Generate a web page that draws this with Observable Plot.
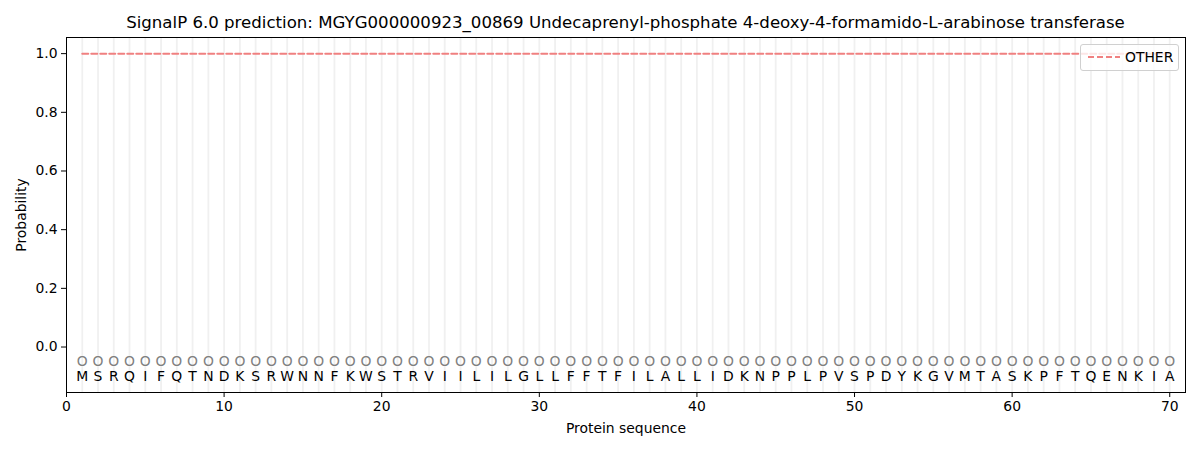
<!DOCTYPE html>
<html>
<head>
<meta charset="utf-8">
<script src="https://cdn.jsdelivr.net/npm/d3@7"></script>
<script src="https://cdn.jsdelivr.net/npm/@observablehq/plot@0.6"></script>
<style>
  body { margin: 0; background: #fff; font-family: "DejaVu Sans", sans-serif; }
  #wrap { position: relative; width: 1200px; height: 450px; }
  #title { position: absolute; top: 13px; left: 66px; width: 1119px; text-align: center; font-size: 16.6px; color: #000; white-space: nowrap; }
  #legend { position: absolute; top: 44px; left: 1080px; width: 97px; height: 25px; border: 1px solid #d0d0d0; border-radius: 3px; background: rgba(255,255,255,0.8); font-size: 13.9px; }
  #legend svg { position: absolute; left: 5px; top: 6px; }
  #legend span { position: absolute; left: 44px; top: 4px; }
</style>
</head>
<body>
<div id="wrap">
  <div id="chart"></div>
  <div id="title">SignalP 6.0 prediction: MGYG000000923_00869 Undecaprenyl-phosphate 4-deoxy-4-formamido-L-arabinose transferase</div>
  <div id="legend"><svg width="36" height="12"><line x1="2" y1="6" x2="34" y2="6" stroke="#f08080" stroke-width="2" stroke-dasharray="6,3"/></svg><span>OTHER</span></div>
</div>
<script>
const sequence = "MSRQIFQTNDKSRWNNFKWSTRVIILILGLLFFTFILALLIDKNPPLPVSPDYKGVMTASKPFTQENKIA".split("");
const otherProb = sequence.map(() => 1.0);
const xTicks = [0, 10, 20, 30, 40, 50, 60, 70];
const yTicks = [0.0, 0.2, 0.4, 0.6, 0.8, 1.0];
const predictionLabel = "O";
const predictionY = -0.05;
const residueY = -0.1;

const rows = sequence.map((aa, i) => ({pos: i + 1, aa, other: otherProb[i]}));

const plot = Plot.plot({
  width: 1200,
  height: 450,
  marginLeft: 66,
  marginRight: 15,
  marginTop: 37,
  marginBottom: 58,
  style: {fontFamily: "DejaVu Sans, sans-serif", fontSize: "13.9px", color: "#000", background: "#fff"},
  x: {domain: [0, 71]},
  y: {domain: [-0.155, 1.055]},
  marks: [
    Plot.ruleX(rows, {x: "pos", stroke: "#ececec", strokeWidth: 1.8, strokeOpacity: 0.8}),
    Plot.line(rows, {x: "pos", y: "other", stroke: "#f08080", strokeWidth: 2, strokeDasharray: "6,3"}),
    Plot.text(rows, {x: "pos", y: () => predictionY, text: () => predictionLabel, fill: "#808080", fontSize: 13.9}),
    Plot.text(rows, {x: "pos", y: () => residueY, text: "aa", fill: "#000", fontSize: 13.9}),
    Plot.frame({stroke: "#000", strokeWidth: 1}),
    Plot.axisX({ticks: xTicks, tickFormat: d3.format("d"), tickSize: 5, label: "Protein sequence", labelAnchor: "center", labelArrow: "none", labelOffset: 40, fontSize: 13.9}),
    Plot.axisY({ticks: yTicks, tickFormat: d3.format(".1f"), tickSize: 5, label: "Probability", labelAnchor: "center", labelArrow: "none", labelOffset: 50, fontSize: 13.9})
  ]
});
document.getElementById("chart").appendChild(plot);
</script>
</body>
</html>
